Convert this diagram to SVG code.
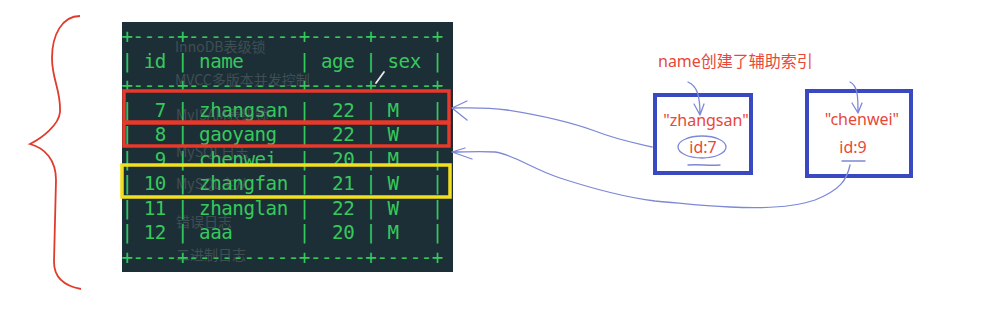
<svg xmlns="http://www.w3.org/2000/svg" width="1000" height="314" viewBox="0 0 1000 314">
<defs>
<style>
.tbl{font-family:"DejaVu Sans Mono","Liberation Mono",monospace;font-size:19.2px;fill:#35c95c;white-space:pre}
.ghost{font-family:"Noto Sans CJK SC","Noto Sans",sans-serif;font-size:14px;fill:#6a7478;opacity:0.45}
.lbl{font-family:"Noto Sans","Noto Sans CJK SC",sans-serif;font-size:16px;fill:#e8473a}
.ink{fill:none;stroke:#7e88d6;stroke-width:1.3;stroke-linecap:round;stroke-linejoin:round}
.bbox{fill:#ffffff;stroke:#3a49c2;stroke-width:4}
</style>
</defs>
<rect width="1000" height="314" fill="#ffffff"/>

<g id="brace">
<path d="M80,16 C62,16 52,35 52,58 C52,80 61,90 60,112 C59,125 42,138 30,144 C45,148 56,160 56,180 L54,262 C54,278 65,286 81,289" fill="none" stroke="#e03c2c" stroke-width="1.8"/>
</g>

<g id="table">
<rect x="122" y="22" width="331" height="250" fill="#1d2f36"/>
<text class="tbl" xml:space="preserve" x="121.5" textLength="321.9" lengthAdjust="spacing" y="43">+----+----------+-----+-----+</text>
<text class="tbl" xml:space="preserve" x="121.5" textLength="321.9" lengthAdjust="spacing" y="67.5">| id | name     | age | sex |</text>
<text class="tbl" xml:space="preserve" x="121.5" textLength="321.9" lengthAdjust="spacing" y="92">+----+----------+-----+-----+</text>
<text class="tbl" xml:space="preserve" x="121.5" textLength="321.9" lengthAdjust="spacing" y="116.5">|  7 | zhangsan |  22 | M   |</text>
<text class="tbl" xml:space="preserve" x="121.5" textLength="321.9" lengthAdjust="spacing" y="141">|  8 | gaoyang  |  22 | W   |</text>
<text class="tbl" xml:space="preserve" x="121.5" textLength="321.9" lengthAdjust="spacing" y="165.5">|  9 | chenwei  |  20 | M   |</text>
<text class="tbl" xml:space="preserve" x="121.5" textLength="321.9" lengthAdjust="spacing" y="190">| 10 | zhangfan |  21 | W   |</text>
<text class="tbl" xml:space="preserve" x="121.5" textLength="321.9" lengthAdjust="spacing" y="214.5">| 11 | zhanglan |  22 | W   |</text>
<text class="tbl" xml:space="preserve" x="121.5" textLength="321.9" lengthAdjust="spacing" y="239">| 12 | aaa      |  20 | M   |</text>
<text class="tbl" xml:space="preserve" x="121.5" textLength="321.9" lengthAdjust="spacing" y="263.5">+----+----------+-----+-----+</text>
<text class="ghost" x="175" y="52">InnoDB表级锁</text>
<text class="ghost" x="175" y="85">MVCC多版本并发控制</text>
<text class="ghost" x="176" y="120">MyISAM表级锁</text>
<text class="ghost" x="176" y="157">MySQL日志</text>
<text class="ghost" x="176" y="189">MySQL主从</text>
<text class="ghost" x="176" y="227">错误日志</text>
<text class="ghost" x="176" y="260">二进制日志</text>
<line x1="384" y1="72" x2="376" y2="83" stroke="#e8ecec" stroke-width="1.8" stroke-linecap="round"/>
</g>

<g id="row-highlights">
<rect x="124" y="91" width="325" height="31" fill="none" stroke="#e8392b" stroke-width="3.5"/>
<rect x="124" y="123" width="325" height="23" fill="none" stroke="#e8392b" stroke-width="3.5"/>
<rect x="122" y="165" width="328" height="32" fill="none" stroke="#f2df1f" stroke-width="3.5"/>
</g>

<g id="index-label">
<text class="lbl" x="658" y="67">name创建了辅助索引</text>
</g>

<g id="node-zhangsan">
<rect class="bbox" x="655" y="95" width="96" height="78"/>
<text class="lbl" x="706" y="126" text-anchor="middle">"zhangsan"</text>
<text class="lbl" x="703" y="153" text-anchor="middle">id:7</text>
<ellipse class="ink" cx="702" cy="147" rx="24" ry="11"/>
<path class="ink" d="M688,165 C698,164 710,166 720,165"/>
</g>

<g id="node-chenwei">
<rect class="bbox" x="807" y="91" width="104" height="85"/>
<text class="lbl" x="862" y="125" text-anchor="middle">"chenwei"</text>
<text class="lbl" x="853" y="153" text-anchor="middle">id:9</text>
<path class="ink" d="M842,161 L865,161"/>
</g>

<g id="connectors">
<path class="ink" d="M688,82 C697,86 700,95 700,115 M694,104 L700,115 L704,104"/>
<path class="ink" d="M850,82 C858,86 858,97 858,113 M852,103 L858,113 L862,103"/>
<path class="ink" d="M652,147 C630,142 615,139 595,131 C570,122 545,116 507,110 C485,107 470,108 452,108 M467,101 L452,108 L467,120"/>
<path class="ink" d="M850,165 C847,180 840,190 815,200 C795,207 770,209 730,207 C700,206 680,203 655,201 C630,198 600,191 560,178 C530,168 515,155 495,152 C480,151 465,152 452,152 M465,148 L452,152 L472,159"/>
</g>
</svg>
